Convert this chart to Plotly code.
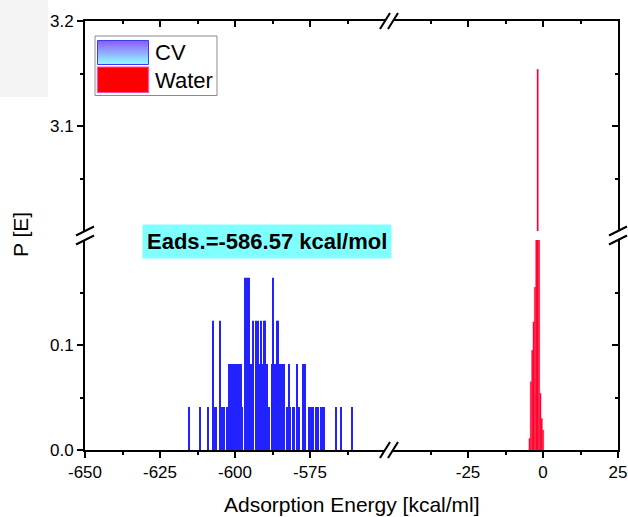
import plotly.graph_objects as go

# ---------------- data ----------------
cv_energy = [-615.3, -611.7, -608.9, -607.4, -606.9, -606.3, -605.1, -604.4, -603.7, -602.8,
             -601.9, -601.3, -600.8, -600.0, -599.4, -598.8, -598.1, -597.7, -596.8, -596.0,
             -595.7, -595.3, -594.8, -594.3, -593.9, -593.0, -592.4, -591.9, -591.4, -590.8,
             -590.4, -590.0, -589.4, -588.8, -587.8, -587.2, -586.8, -586.1, -585.6, -585.0,
             -584.2, -583.6, -582.8, -582.1, -581.7, -580.8, -580.2, -579.4, -578.8, -577.4,
             -576.9, -576.6, -575.2, -574.8, -573.9, -573.0, -572.2, -571.4, -570.8, -570.3,
             -566.3, -564.8, -560.9]
cv_prob = [0.041, 0.041, 0.041, 0.123, 0.041, 0.041, 0.123, 0.041, 0.041, 0.041,
           0.082, 0.082, 0.082, 0.082, 0.082, 0.082, 0.082, 0.041, 0.164, 0.164,
           0.123, 0.164, 0.082, 0.082, 0.123, 0.123, 0.123, 0.082, 0.123, 0.082,
           0.123, 0.123, 0.082, 0.041, 0.082, 0.164, 0.082, 0.123, 0.123, 0.082,
           0.082, 0.082, 0.041, 0.082, 0.041, 0.041, 0.041, 0.082, 0.041, 0.082,
           0.082, 0.082, 0.041, 0.041, 0.041, 0.041, 0.041, 0.041, 0.041, 0.041,
           0.041, 0.041, 0.041]

water_energy = [-4.475, -4.025, -3.575, -3.125, -2.675, -2.225, -1.775, -1.325, -0.875, -0.425, 0.025]
water_prob = [0.011, 0.065, 0.095, 0.122, 0.155, 0.60, 3.154, 0.70, 0.054, 0.030, 0.019]

x_left_ticks = [-650, -625, -600, -575]
x_left_labels = ["-650", "-625", "-600", "-575"]
x_left_minor = [-637.5, -612.5, -587.5, -562.5]
x_right_ticks = [-25, 0, 25]
x_right_labels = ["-25", "0", "25"]
x_right_minor = [-37.5, -12.5, 12.5]
y_low_ticks = [0.0, 0.1]
y_low_labels = ["0.0", "0.1"]
y_low_minor = [0.05, 0.15]
y_up_ticks = [3.1, 3.2]
y_up_labels = ["3.1", "3.2"]
y_up_minor = [3.05, 3.15]

x_left_range = [-650, -550]
x_right_range = [-50, 25]
y_low_range = [0, 0.2]
y_up_range = [3.0, 3.2]

# ---------------- geometry ----------------
W, H = 628, 517
L, R, T, B = 85, 618, 21, 450


def px(v):
    return (v - L) / (R - L)


def py(v):
    return (B - v) / (B - T)


FONT = "Arial, Liberation Sans, sans-serif"
BLACK = "#000000"

xl_dom = [0, px(385)]
xr_dom = [px(393), 1]
yl_dom = [0, py(240)]
yu_dom = [py(231), 1]

fig = go.Figure()

cv_style = dict(color="#2222FF", line=dict(width=0))
water_style = dict(color="#FF0000", line=dict(color="#FF1A80", width=0.4))

for xa, ya in (("x", "y"), ("x3", "y3")):
    fig.add_trace(go.Bar(x=cv_energy, y=cv_prob, width=0.36, marker=cv_style,
                         xaxis=xa, yaxis=ya, showlegend=False, name="CV"))
for xa, ya in (("x2", "y2"), ("x4", "y4")):
    fig.add_trace(go.Bar(x=water_energy, y=water_prob, width=0.45, marker=water_style,
                         xaxis=xa, yaxis=ya, showlegend=False, name="Water"))

tickfont = dict(family=FONT, size=17, color=BLACK)
common = dict(showgrid=False, zeroline=False, showline=True, linecolor=BLACK, linewidth=2,
              tickcolor=BLACK, tickwidth=2, ticklen=6, tickfont=tickfont, mirror=False,
              automargin=False, fixedrange=True)


def minor(vals, ticks):
    return dict(tickmode="array", tickvals=vals, ticks=ticks, ticklen=3,
                tickwidth=2, tickcolor=BLACK, showgrid=False)


fig.update_layout(
    width=W, height=H,
    margin=dict(l=L, r=W - R, t=T, b=H - B, pad=0, autoexpand=False),
    paper_bgcolor="white", plot_bgcolor="white",
    barmode="overlay", showlegend=False,
    xaxis=dict(domain=xl_dom, range=x_left_range, anchor="y", side="bottom",
               tickmode="array", tickvals=x_left_ticks, ticktext=x_left_labels, ticks="outside",
               minor=minor(x_left_minor, "outside"), **common),
    xaxis2=dict(domain=xr_dom, range=x_right_range, anchor="y2", side="bottom",
                tickmode="array", tickvals=x_right_ticks, ticktext=x_right_labels, ticks="outside",
                minor=minor(x_right_minor, "outside"), **common),
    xaxis3=dict(domain=xl_dom, range=x_left_range, anchor="y3", side="top",
                tickmode="array", tickvals=x_left_ticks, ticks="inside", showticklabels=False,
                minor=minor(x_left_minor, "inside"), **common),
    xaxis4=dict(domain=xr_dom, range=x_right_range, anchor="y4", side="top",
                tickmode="array", tickvals=x_right_ticks, ticks="inside", showticklabels=False,
                minor=minor(x_right_minor, "inside"), **common),
    yaxis=dict(domain=yl_dom, range=y_low_range, anchor="x", side="left",
               tickmode="array", tickvals=y_low_ticks, ticktext=y_low_labels, ticks="outside",
               minor=minor(y_low_minor, "outside"), **common),
    yaxis2=dict(domain=yl_dom, range=y_low_range, anchor="x2", side="right",
                tickmode="array", tickvals=y_low_ticks, ticks="inside", showticklabels=False,
                minor=minor(y_low_minor, "inside"), **common),
    yaxis3=dict(domain=yu_dom, range=y_up_range, anchor="x3", side="left",
                tickmode="array", tickvals=y_up_ticks, ticktext=y_up_labels, ticks="outside",
                minor=minor(y_up_minor, "outside"), **common),
    yaxis4=dict(domain=yu_dom, range=y_up_range, anchor="x4", side="right",
                tickmode="array", tickvals=y_up_ticks, ticks="inside", showticklabels=False,
                minor=minor(y_up_minor, "inside"), **common),
)

shapes = []
# faint grey block in the top-left corner of the picture
shapes.append(dict(type="rect", xref="paper", yref="paper", x0=px(0), x1=px(48), y0=py(97), y1=py(0),
                   fillcolor="#F4F4F4", line=dict(width=0), layer="below"))

# axis break marks "//"
def slash_x(cx, cy):
    return dict(type="line", xref="paper", yref="paper", x0=px(cx - 5), y0=py(cy + 8),
                x1=px(cx + 5), y1=py(cy - 8), line=dict(color=BLACK, width=2))


def slash_y(cx, cy):
    return dict(type="line", xref="paper", yref="paper", x0=px(cx - 9), y0=py(cy + 4.5),
                x1=px(cx + 9), y1=py(cy - 4.5), line=dict(color=BLACK, width=2))


for cy in (T, B):
    shapes.append(slash_x(385, cy))
    shapes.append(slash_x(393, cy))
for cx in (L, R):
    shapes.append(slash_y(cx, 240))
    shapes.append(slash_y(cx, 231))

# custom legend
shapes.append(dict(type="rect", xref="paper", yref="paper", x0=px(95), x1=px(217), y0=py(95.5), y1=py(36),
                   fillcolor="white", line=dict(color="#8C8C8C", width=1)))
n = 24
sy0, sy1 = 40.5, 64.5
c_top = (128, 64, 255)
c_bot = (128, 255, 255)
for i in range(n):
    f = (i + 0.5) / n
    col = tuple(round(c_top[k] + (c_bot[k] - c_top[k]) * f) for k in range(3))
    ya = sy0 + (sy1 - sy0) * i / n
    yb = sy0 + (sy1 - sy0) * (i + 1) / n
    shapes.append(dict(type="rect", xref="paper", yref="paper", x0=px(97.5), x1=px(148.5),
                       y0=py(yb + 0.3), y1=py(ya), fillcolor="rgb(%d,%d,%d)" % col, line=dict(width=0)))
shapes.append(dict(type="rect", xref="paper", yref="paper", x0=px(97.5), x1=px(148.5), y0=py(sy1), y1=py(sy0),
                   fillcolor="rgba(0,0,0,0)", line=dict(color="#3A3AFF", width=1)))
shapes.append(dict(type="rect", xref="paper", yref="paper", x0=px(97.5), x1=px(148.5), y0=py(92.5), y1=py(67),
                   fillcolor="#FF0000", line=dict(color="#FF4DA6", width=1.2)))

fig.update_layout(shapes=shapes)

ann = []
ann.append(dict(text="CV", xref="paper", yref="paper", x=px(153), y=py(52.5), xanchor="left", yanchor="middle",
                showarrow=False, font=dict(family=FONT, size=22, color=BLACK)))
ann.append(dict(text="Water", xref="paper", yref="paper", x=px(153), y=py(80), xanchor="left", yanchor="middle",
                showarrow=False, font=dict(family=FONT, size=22, color=BLACK)))
ann.append(dict(text="<b>Eads.=-586.57 kcal/mol</b>", xref="paper", yref="paper",
                x=px(266.7), y=py(241.5), xanchor="center", yanchor="middle", showarrow=False,
                bgcolor="#80FFFF", borderpad=4, font=dict(family=FONT, size=22, color=BLACK)))
ann.append(dict(text="Adsorption Energy [kcal/ml]", xref="paper", yref="paper", x=0.5, y=py(504),
                xanchor="center", yanchor="middle", showarrow=False,
                font=dict(family=FONT, size=21, color=BLACK)))
ann.append(dict(text="P [E]", xref="paper", yref="paper", x=px(20), y=py(235), textangle=-90,
                xanchor="center", yanchor="middle", showarrow=False,
                font=dict(family=FONT, size=21, color=BLACK)))
fig.update_layout(annotations=ann)

fig.write_html("out.html")
